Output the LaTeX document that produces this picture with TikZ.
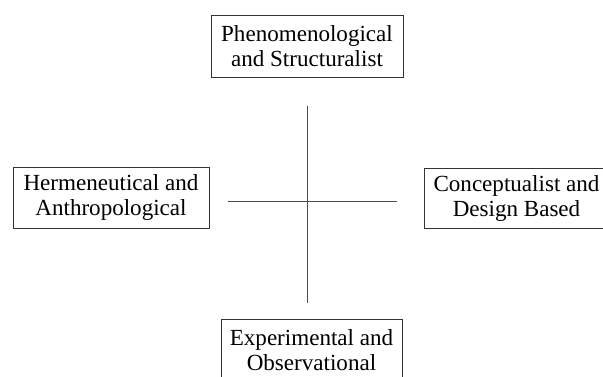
\documentclass[tikz,border=0pt]{standalone}
\usepackage{fontspec}
\setmainfont{Liberation Serif}
\usetikzlibrary{positioning}
\tikzset{
    % Plain framed box holding one of the four approaches
    approach box/.style={
        draw=black!80, line width=0.75pt, inner sep=0,
        align=center, font=\fontsize{17.3}{18.75}\selectfont},
%
    % The thin lines of the cross
    axis line/.style={draw=black!70, line width=0.75pt}}

\begin{document}
\begin{tikzpicture}[x=0.75pt, y=-0.75pt]

% Page frame, boxes at the right and bottom run off it
\useasboundingbox (0,0) rectangle (603,376);
\clip (0,0) rectangle (603,376);

\node [approach box, minimum width=144pt, minimum height=46.5pt]
    (phen) at (307,46) {Phenomenological\\and Structuralist};
\node [approach box, minimum width=147pt, minimum height=45.75pt]
    (herm) at (111,197.5) {Hermeneutical and\\Anthropological};
\node [approach box, minimum width=138pt, minimum height=45pt]
    (conc) at (516.5,198) {Conceptualist and\\Design Based};
\node [approach box, minimum width=135.75pt, minimum height=46.5pt]
    (expe) at (311.5,350) {Experimental and\\Observational};

% The cross
\coordinate (up)    at (307,106);
\coordinate (down)  at (307,303);
\coordinate (left)  at (228,201);
\coordinate (right) at (397,201);
\path [axis line] (up) -- (down);
\path [axis line] (left) -- (right);

\end{tikzpicture}
\end{document}
